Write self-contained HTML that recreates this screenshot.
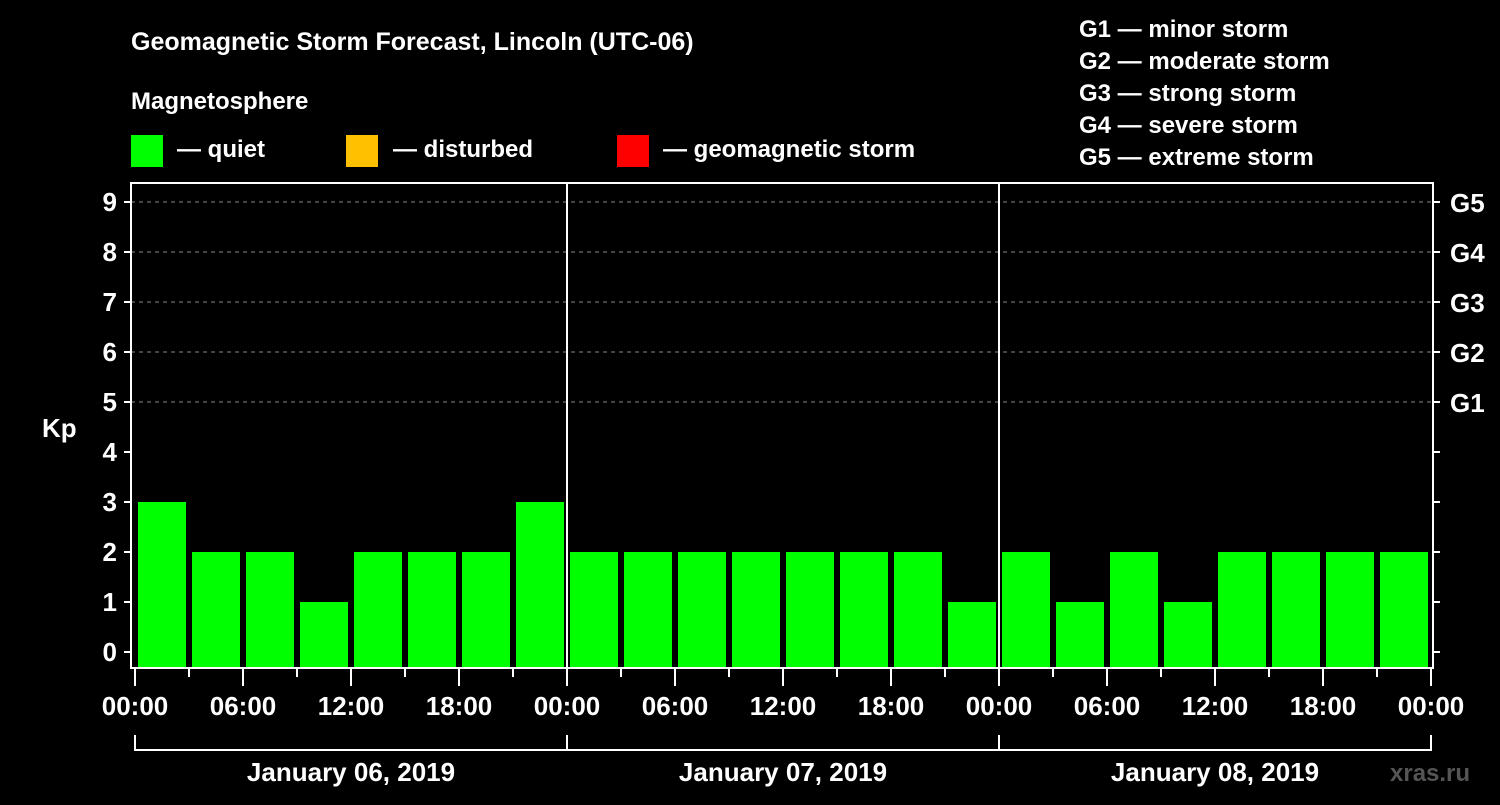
<!DOCTYPE html>
<html><head><meta charset="utf-8"><style>
body{margin:0;background:#000;width:1500px;height:800px;overflow:hidden}
svg text{font-family:"Liberation Sans",Arial,sans-serif;font-weight:bold;fill:#fff}
</style></head><body>
<svg id="chart" width="1500" height="800" xmlns="http://www.w3.org/2000/svg">
<rect width="1500" height="800" fill="#000"/>
<text x="131" y="50" font-size="25">Geomagnetic Storm Forecast, Lincoln (UTC-06)</text>
<text x="131" y="109" font-size="24">Magnetosphere</text>
<g>
<rect x="131" y="135" width="32" height="32" fill="#00ff00"/>
<text x="177" y="157" font-size="24">— quiet</text>
<rect x="346" y="135" width="32" height="32" fill="#ffc000"/>
<text x="393" y="157" font-size="24">— disturbed</text>
<rect x="617" y="135" width="32" height="32" fill="#ff0000"/>
<text x="663" y="157" font-size="24">— geomagnetic storm</text>
</g>
<g font-size="24">
<text x="1079" y="37">G1 — minor storm</text>
<text x="1079" y="69">G2 — moderate storm</text>
<text x="1079" y="101">G3 — strong storm</text>
<text x="1079" y="133">G4 — severe storm</text>
<text x="1079" y="165">G5 — extreme storm</text>
</g>
<text x="42" y="437" font-size="26">Kp</text>
<text x="1390" y="781" font-size="24" style="fill:#555">xras.ru</text>
<g id="grid"></g><g id="bars"></g><g id="axes"></g>
</svg>
<script>
const days = ["January 06, 2019","January 07, 2019","January 08, 2019"];
const kpValues = [3,2,2,1,2,2,2,3, 2,2,2,2,2,2,2,1, 2,1,2,1,2,2,2,2];
const yTicks = [0,1,2,3,4,5,6,7,8,9];
const gLabels = ["G1","G2","G3","G4","G5"];
const gLevels = [5,6,7,8,9];
const hourLabels = ["00:00","06:00","12:00","18:00"];

const NS="http://www.w3.org/2000/svg";
const X0=135, DAY=432, L=131, R=1433, T=183, B=668;
const xs = h => X0 + h/24*DAY;
const ys = v => 652 - v*50;
function mk(parent, tag, attrs){const e=document.createElementNS(NS,tag);for(const k in attrs)e.setAttribute(k,attrs[k]);document.getElementById(parent).appendChild(e);return e;}

gLevels.forEach((v,i)=>{
  const l=mk('grid','line',{x1:L,x2:R,y1:ys(v),y2:ys(v),stroke:'#888','stroke-dasharray':'4,4','stroke-width':1});
  
  
  const t=mk('axes','text',{x:1450,y:ys(v)+10,'font-size':26});t.textContent=gLabels[i];
  
  
});
kpValues.forEach((v,i)=>{
  const x=xs(i*3)+3;
  const col = v>=5?'#ff0000':(v>=4?'#ffc000':'#00ff00');
  const r=mk('bars','rect',{x:x,y:ys(v),width:48,height:B-1-ys(v),fill:col});
  
  
});
// axes frame
const fr=mk('axes','rect',{x:L,y:T,width:R-L,height:B-T,fill:'none',stroke:'#fff','stroke-width':2});


for(let d=1;d<days.length;d++){
  const s=mk('axes','line',{x1:xs(d*24),x2:xs(d*24),y1:T,y2:B,stroke:'#fff','stroke-width':2});
  
  
}
yTicks.forEach(v=>{
  mk('axes','line',{x1:L-7,x2:L,y1:ys(v),y2:ys(v),stroke:'#fff','stroke-width':2});
  mk('axes','line',{x1:R,x2:R+7,y1:ys(v),y2:ys(v),stroke:'#fff','stroke-width':2});
  const t=mk('axes','text',{x:L-14,y:ys(v)+9,'font-size':26,'text-anchor':'end'});t.textContent=v;
  
  
});
for(let h=0;h<=days.length*24;h+=3){
  const major=h%6===0;
  mk('axes','line',{x1:xs(h),x2:xs(h),y1:B,y2:B+(major?18:9),stroke:'#fff','stroke-width':2});
  if(major){
    const t=mk('axes','text',{x:xs(h),y:715,'font-size':26,'text-anchor':'middle'});
    t.textContent=hourLabels[(h/6)%4];
    
    
  }
}
days.forEach((d,i)=>{
  const a=xs(i*24), b=xs((i+1)*24);
  mk('axes','path',{d:`M${a},735 V750 H${b} V735`,fill:'none',stroke:'#fff','stroke-width':2});
  const t=mk('axes','text',{x:(a+b)/2,y:781,'font-size':26,'text-anchor':'middle'});t.textContent=d;
  
  
});
</script>
</body></html>
